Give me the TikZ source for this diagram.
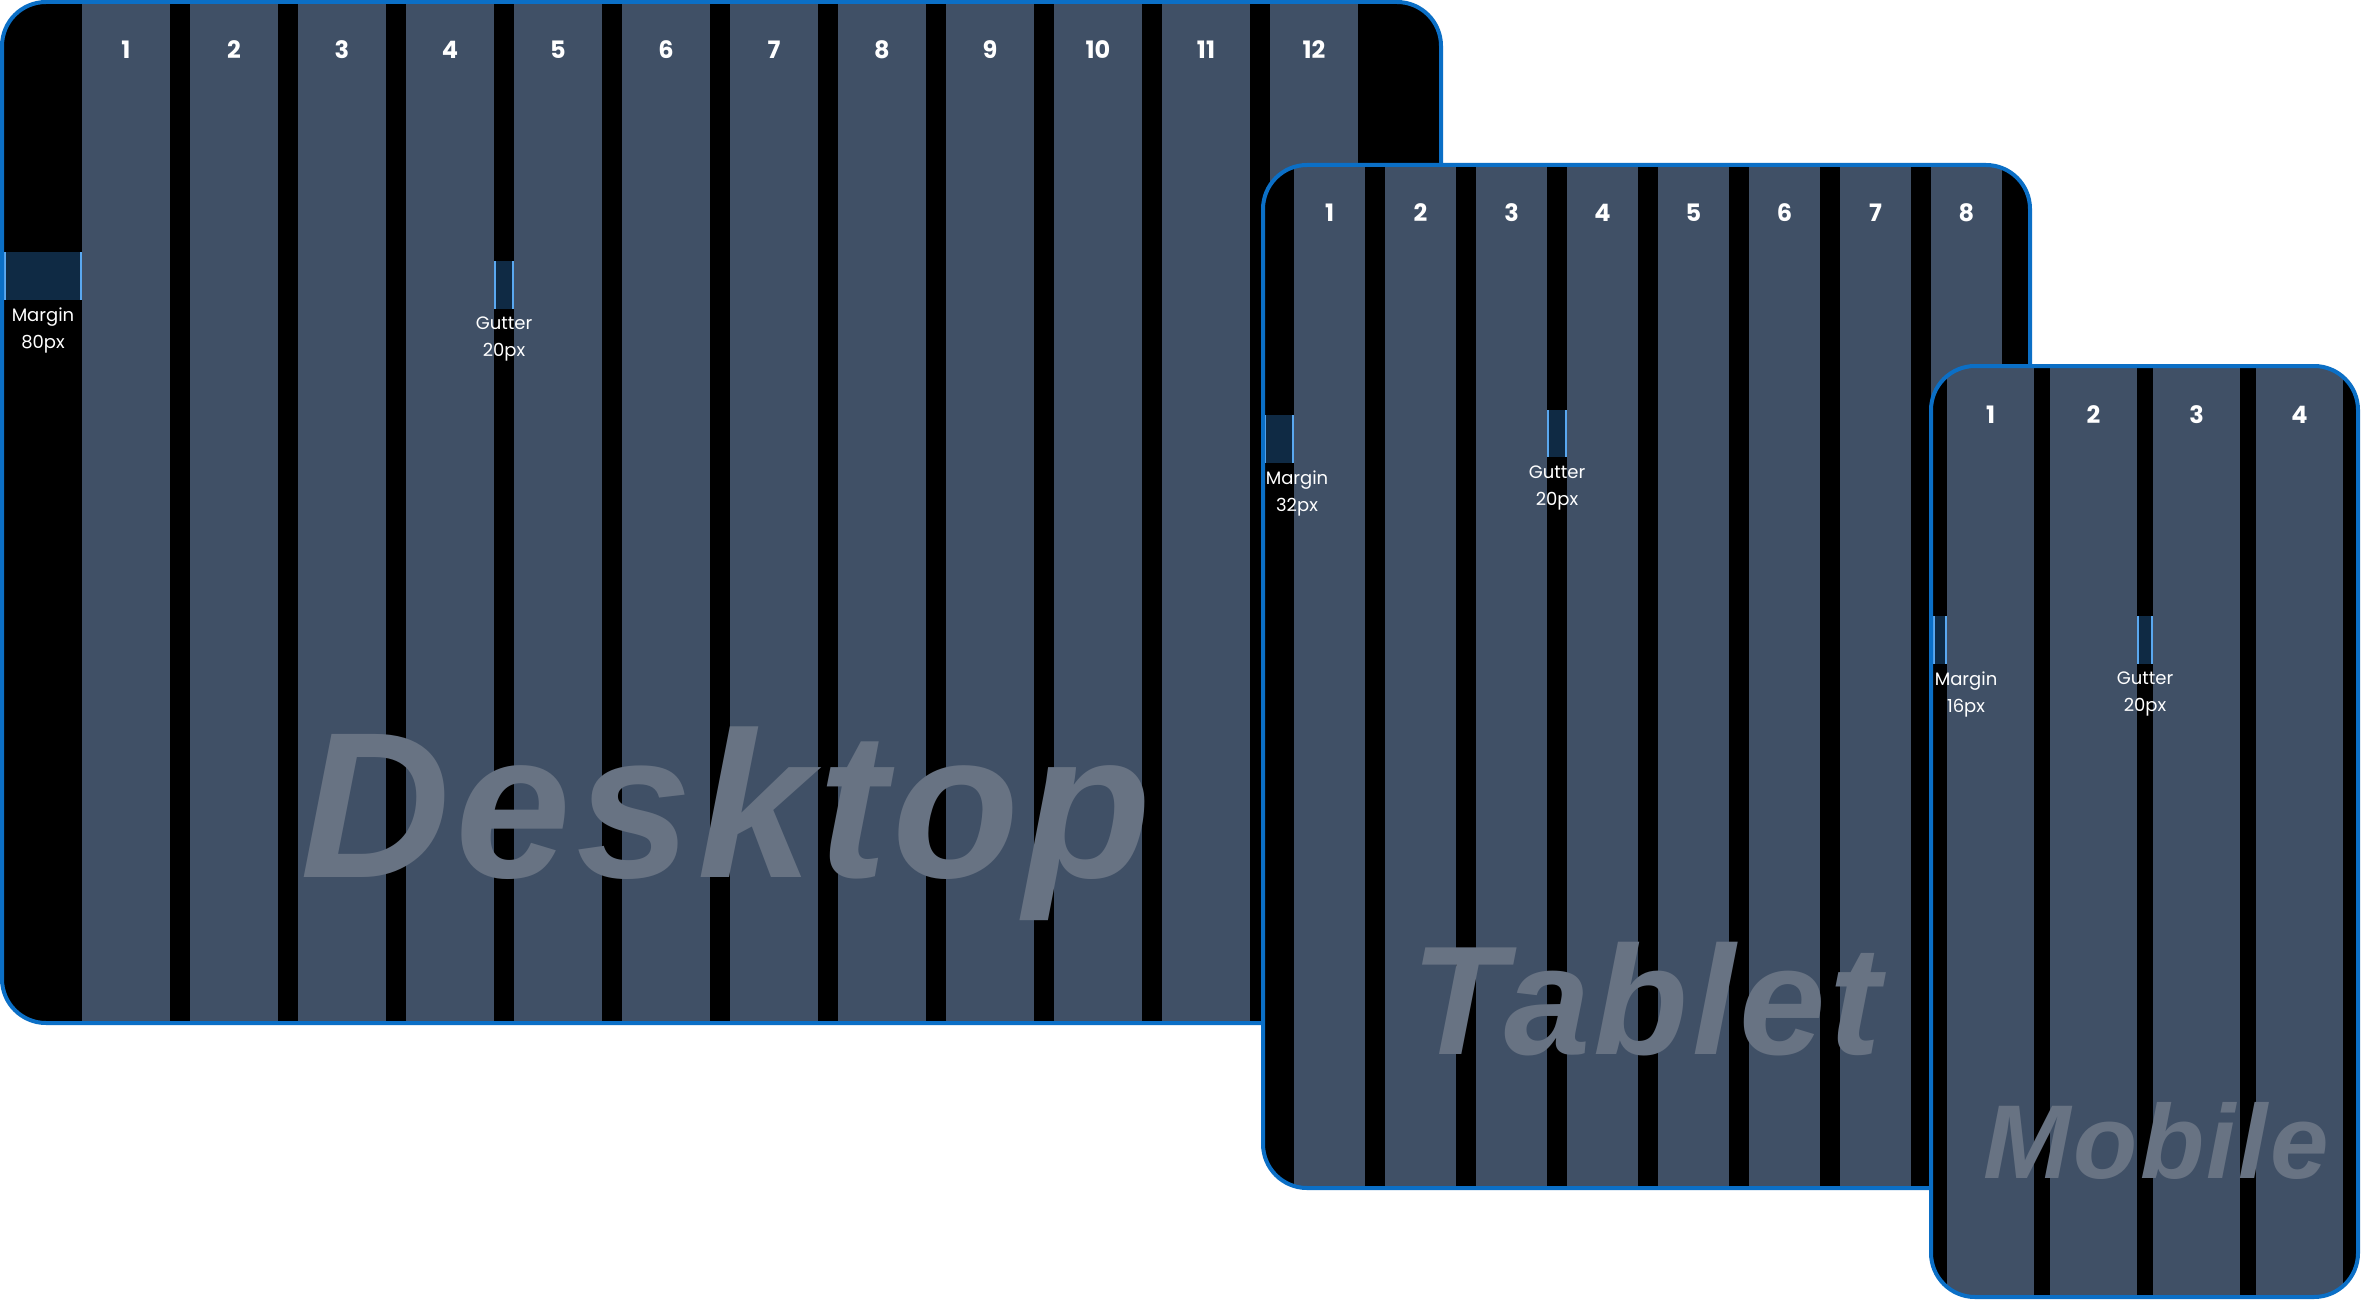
\documentclass[tikz,border=0pt]{standalone}
\usepackage{fontspec}
\setmainfont{Poppins}
\newfontfamily\wordfont{Liberation Sans}[LetterSpace=2.5]
\usetikzlibrary{positioning,calc}
\definecolor{slate}{HTML}{405066}
\definecolor{frameblue}{HTML}{0B6FC6}
\definecolor{deepnavy}{HTML}{0F2A44}
\definecolor{skyline}{HTML}{5AA8F0}
\definecolor{ghost}{HTML}{687383}

\tikzset{
  screenframe/.style={draw=frameblue, line width=4pt, rounded corners=44pt},
  screenclip/.style={rounded corners=44pt},
  colnum/.style={text=white, inner sep=0pt, anchor=base, font=\fontsize{24}{24}\selectfont\bfseries},
  gaplabel/.style={text=white, inner sep=0pt, anchor=north, align=center, font=\fontsize{18}{27}\selectfont},
  gapedge/.style={draw=skyline, line width=2pt},
  bigword/.style={text=ghost, inner sep=0pt, anchor=base west, font=\wordfont\bfseries\itshape}
}

\begin{document}
\begin{tikzpicture}[x=1pt, y=-1pt]
\fill[white] (0,0) rectangle (2361,1300);
\useasboundingbox (0,0) rectangle (2361,1300);

% desktop, 12 columns
\begin{scope}
  \clip[screenclip] (2,2) rectangle (1441,1023);
  \fill[black] (0,0) rectangle (1443,1025);
  \foreach \i in {0,...,11}
    \fill[slate] ({82+\i*108},0) rectangle ({170+\i*108},1025);
  \fill[deepnavy] (4,252) rectangle (82,300);
  \draw[gapedge] (5,252) -- (5,300) (81,252) -- (81,300);
  \fill[deepnavy] (494,261) rectangle (514,309);
  \draw[gapedge] (495,261) -- (495,309) (513,261) -- (513,309);
\end{scope}
\foreach \i in {1,...,12}
  \node[colnum] (dnum\i) at ({126+(\i-1)*108},59) {\i};
\node[gaplabel] (dmargin) at (43,308) {Margin\\80px};
\node[gaplabel] (dgutter) at (504,317) {Gutter\\20px};
\node[bigword, font=\wordfont\bfseries\itshape\fontsize{208}{208}\selectfont] (dword) at (300,877) {Desktop};
\draw[screenframe] (2,2) rectangle (1441,1023);

% tablet, 8 columns
\begin{scope}
  \clip[screenclip] (1263,165) rectangle (2030,1188);
  \fill[black] (1261,163) rectangle (2032,1190);
  \foreach \i in {0,...,7}
    \fill[slate] ({1294+\i*91},163) rectangle ({1365+\i*91},1190);
  \fill[deepnavy] (1264,415) rectangle (1294,463);
  \draw[gapedge] (1265,415) -- (1265,463) (1293,415) -- (1293,463);
  \fill[deepnavy] (1547,410) rectangle (1567,457);
  \draw[gapedge] (1548,410) -- (1548,457) (1566,410) -- (1566,457);
\end{scope}
\foreach \i in {1,...,8}
  \node[colnum] (tnum\i) at ({1329.5+(\i-1)*91},222) {\i};
\node[gaplabel] (tmargin) at (1297,471) {Margin\\32px};
\node[gaplabel] (tgutter) at (1557,466) {Gutter\\20px};
\node[bigword, font=\wordfont\bfseries\itshape\fontsize{155}{155}\selectfont] (tword) at (1411,1054) {Tablet};
\draw[screenframe] (1263,165) rectangle (2030,1188);

% mobile, 4 columns
\begin{scope}
  \clip[screenclip] (1931,366) rectangle (2358,1297);
  \fill[black] (1929,364) rectangle (2360,1299);
  \foreach \i in {0,...,3}
    \fill[slate] ({1947+\i*103},364) rectangle ({2034+\i*103},1299);
  \fill[deepnavy] (1933,616) rectangle (1947,664);
  \draw[gapedge] (1934,616) -- (1934,664) (1946,616) -- (1946,664);
  \fill[deepnavy] (2137,616) rectangle (2153,664);
  \draw[gapedge] (2138,616) -- (2138,664) (2152,616) -- (2152,664);
\end{scope}
\foreach \i in {1,...,4}
  \node[colnum] (mnum\i) at ({1990.5+(\i-1)*103},423) {\i};
\node[gaplabel] (mmargin) at (1966,672) {Margin\\16px};
\node[gaplabel] (mgutter) at (2145,672) {Gutter\\20px};
\node[bigword, font=\wordfont\bfseries\itshape\fontsize{105}{105}\selectfont] (mword) at (1983,1178) {Mobile};
\draw[screenframe] (1931,366) rectangle (2358,1297);
\end{tikzpicture}
\end{document}
